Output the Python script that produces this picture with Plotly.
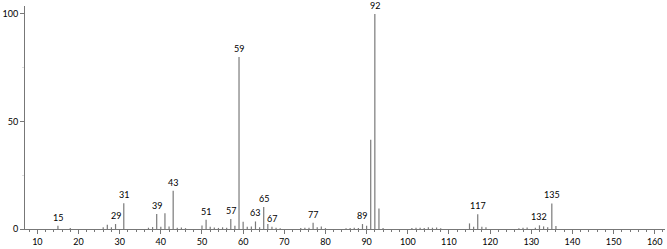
import plotly.graph_objects as go

# m/z values and relative intensities
mz = [15, 18, 26, 27, 28, 29, 31, 37, 38, 39, 40, 41, 42, 43, 44, 45, 46,
      50, 51, 52, 53, 54, 55, 56, 57, 58, 59, 60, 61, 62, 63, 64, 65, 66, 67, 68, 69,
      74, 75, 76, 77, 78, 79, 80, 85, 86, 87, 88, 89, 90, 91, 92, 93, 94,
      101, 102, 103, 104, 105, 106, 107, 108, 115, 116, 117, 118, 119,
      127, 128, 129, 131, 132, 133, 134, 135, 136]
intensity = [1.5, 0.5, 0.8, 2.0, 0.8, 2.3, 12.0, 0.6, 0.9, 7.0, 1.0, 7.3, 1.2, 17.8, 0.6, 0.7, 0.4,
             1.6, 4.3, 1.0, 0.7, 0.5, 0.8, 0.6, 4.7, 1.5, 80.0, 3.4, 1.0, 1.2, 3.5, 0.8, 10.2, 2.3, 1.0, 0.6, 0.4,
             0.5, 0.6, 0.6, 2.9, 0.8, 1.2, 0.4, 0.3, 0.5, 0.6, 0.5, 2.3, 1.5, 41.5, 100.0, 9.5, 0.5,
             0.5, 0.6, 0.6, 0.5, 0.8, 0.6, 0.7, 0.4, 2.6, 1.0, 6.9, 1.0, 0.8,
             0.4, 0.6, 0.7, 0.6, 1.7, 1.2, 0.8, 11.9, 1.4]
labelled = [15, 29, 31, 39, 43, 51, 57, 59, 63, 65, 67, 77, 89, 92, 117, 132, 135]

x_ticks = [10, 20, 30, 40, 50, 60, 70, 80, 90, 100, 110, 120, 130, 140, 150, 160]
y_ticks = [0, 50, 100]

xs, ys = [], []
for m, h in zip(mz, intensity):
    xs += [m, m, None]
    ys += [0, h, None]

FONT = "Lato"
fig = go.Figure()
fig.add_trace(go.Scatter(x=xs, y=ys, mode="lines",
                         line=dict(color="#7a7a7a", width=1.2),
                         hoverinfo="skip", showlegend=False))

lookup = dict(zip(mz, intensity))
for m in labelled:
    fig.add_annotation(x=m, y=lookup[m], text=str(m), showarrow=False,
                       yanchor="bottom", yshift=1,
                       font=dict(family=FONT, size=9, color="black"))

fig.update_layout(
    width=667, height=249,
    margin=dict(l=25, r=2, t=6, b=16),
    paper_bgcolor="white", plot_bgcolor="white",
    showlegend=False,
)
fig.update_xaxes(range=[7, 162.5], tickmode="array", tickvals=x_ticks,
                 ticktext=[str(v) for v in x_ticks],
                 ticks="outside", ticklen=4, tickcolor="#777", tickwidth=1,
                 minor=dict(dtick=2, ticks="outside", ticklen=2, tickcolor="#777", showgrid=False),
                 showline=True, linecolor="#777", linewidth=1,
                 showgrid=False, zeroline=False,
                 tickfont=dict(family=FONT, size=9, color="black"))
fig.update_yaxes(range=[0, 103.7], tickmode="array", tickvals=y_ticks,
                 ticktext=[str(v) for v in y_ticks],
                 ticks="outside", ticklen=4, tickcolor="#777", tickwidth=1,
                 minor=dict(dtick=25, ticks="outside", ticklen=2, tickcolor="#ddd", showgrid=False),
                 showline=True, linecolor="#777", linewidth=1,
                 showgrid=False, zeroline=False,
                 tickfont=dict(family=FONT, size=9, color="black"))

fig.write_html("out.html")
